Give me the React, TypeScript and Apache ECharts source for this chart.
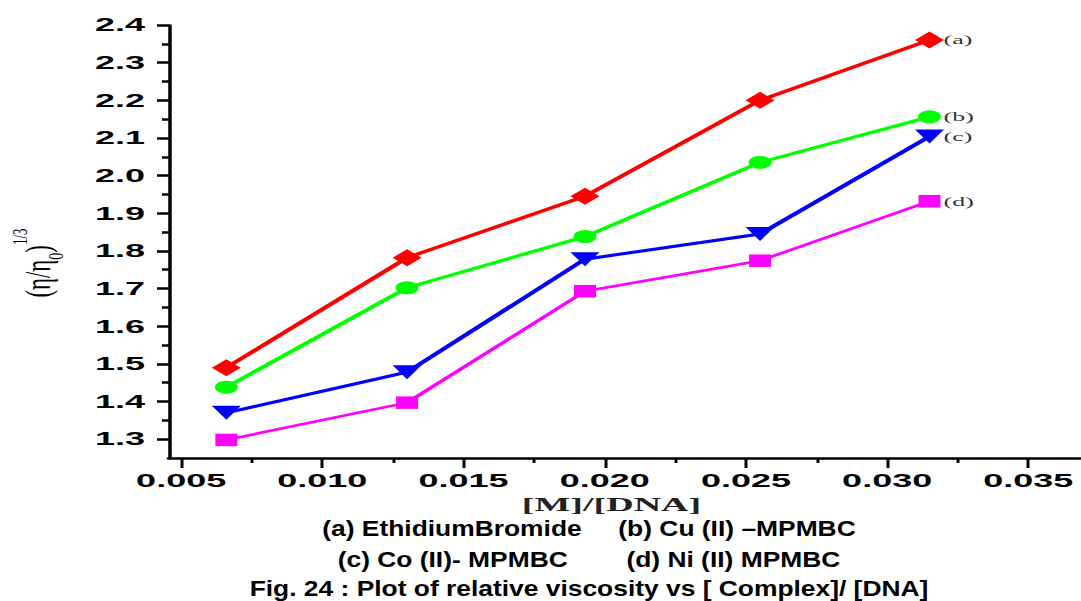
import React, { useEffect, useRef } from 'react';
import * as echarts from 'echarts';

// ---- data ----
const X_VALUES = [0.0066, 0.013, 0.0193, 0.0255, 0.0315];
const SERIES_A = [1.49, 1.782, 1.945, 2.2, 2.36]; // (a) Ethidium Bromide
const SERIES_B = [1.438, 1.702, 1.838, 2.035, 2.156]; // (b) Cu(II)-MPMBC
const SERIES_C = [1.37, 1.478, 1.778, 1.845, 2.104]; // (c) Co(II)-MPMBC
const SERIES_D = [1.298, 1.397, 1.693, 1.774, 1.932]; // (d) Ni(II)-MPMBC
const SERIES_LABELS = ['(a)', '(b)', '(c)', '(d)'];
const SERIES_NAMES = ['EthidiumBromide', 'Cu (II) –MPMBC', 'Co (II)- MPMBC', 'Ni (II) MPMBC'];

const X_TICKS = [0.005, 0.01, 0.015, 0.02, 0.025, 0.03, 0.035];
const X_MINOR = [0.0075, 0.0125, 0.0175, 0.0225, 0.0275, 0.0325];
const Y_TICKS = [1.3, 1.4, 1.5, 1.6, 1.7, 1.8, 1.9, 2.0, 2.1, 2.2, 2.3, 2.4];
const Y_MINOR = [1.35, 1.45, 1.55, 1.65, 1.75, 1.85, 1.95, 2.05, 2.15, 2.25, 2.35];

const CAPTION_LINES = [
  '(a) EthidiumBromide     (b) Cu (II) –MPMBC',
  '(c) Co (II)- MPMBC        (d) Ni (II) MPMBC',
  'Fig. 24 : Plot of relative viscosity vs [ Complex]/ [DNA]',
];

// ---- layout / style ----
const STRETCH = 2; // the reference figure is horizontally stretched
const W = 1081 / STRETCH;
const H = 601;
const SANS = "'Liberation Sans', Arial, Helvetica, sans-serif";
const SERIF = "'Liberation Serif', 'Times New Roman', serif";
const X_MIN = 0.00457;
const X_MAX = 0.0369;
const Y_MIN = 1.25;
const Y_MAX = 2.4;
const CAPTION_Y = [528, 559, 588];

export default function App() {
  const ref = useRef<HTMLDivElement>(null);

  useEffect(() => {
    const el = ref.current;
    if (!el) return;
    const chart = echarts.init(el, null, { renderer: 'svg' });

    const mk = (
      idx: number,
      values: number[],
      color: string,
      symbol: string,
      size: number[],
      width: number,
      rotate = 0
    ) => ({
      name: SERIES_LABELS[idx] + ' ' + SERIES_NAMES[idx],
      type: 'line',
      xAxisIndex: 0,
      yAxisIndex: 0,
      data: X_VALUES.map((x, i) => [x, values[i]]),
      symbol,
      symbolSize: size,
      symbolRotate: rotate,
      showSymbol: true,
      itemStyle: { color, borderWidth: 0 },
      lineStyle: { color, width },
      endLabel: {
        show: true,
        formatter: SERIES_LABELS[idx],
        distance: 7,
        fontFamily: SERIF,
        fontSize: 13,
        color: '#333',
      },
      z: 10 - idx,
    });

    const option: any = {
      animation: false,
      backgroundColor: '#ffffff',
      grid: {
        left: 84.5,
        right: 0,
        top: 25,
        bottom: 143,
        containLabel: false,
        outerBoundsMode: 'none',
      },
      xAxis: [
        {
          type: 'value',
          position: 'bottom',
          min: X_MIN,
          max: X_MAX,
          axisLine: { show: true, lineStyle: { color: '#000', width: 2.5 } },
          axisTick: {
            show: true,
            customValues: X_TICKS,
            length: 10,
            lineStyle: { color: '#000', width: 1.5 },
          },
          axisLabel: {
            show: true,
            customValues: X_TICKS,
            formatter: (v: number) => v.toFixed(3),
            margin: 14,
            fontFamily: SANS,
            fontWeight: 'bold',
            fontSize: 18,
            color: '#000',
          },
          splitLine: { show: false },
          name: '[M]/[DNA]',
          nameLocation: 'middle',
          nameGap: 23,
          nameTextStyle: {
            fontFamily: SERIF,
            fontWeight: 'bold',
            fontSize: 19,
            color: '#222',
            padding: [0, 14, 0, 0],
          },
        },
        {
          type: 'value',
          position: 'bottom',
          min: X_MIN,
          max: X_MAX,
          axisLine: { show: false },
          axisTick: {
            show: true,
            customValues: X_MINOR,
            length: 5,
            lineStyle: { color: '#000', width: 1.5 },
          },
          axisLabel: { show: false },
          splitLine: { show: false },
        },
      ],
      yAxis: [
        {
          type: 'value',
          position: 'left',
          min: Y_MIN,
          max: Y_MAX,
          axisLine: { show: true, lineStyle: { color: '#000', width: 1.75 } },
          axisTick: {
            show: true,
            customValues: Y_TICKS,
            length: 6,
            lineStyle: { color: '#000', width: 2.5 },
          },
          axisLabel: {
            show: true,
            customValues: Y_TICKS,
            formatter: (v: number) => v.toFixed(1),
            margin: 12,
            fontFamily: SANS,
            fontWeight: 'bold',
            fontSize: 18,
            color: '#000',
          },
          splitLine: { show: false },
        },
        {
          type: 'value',
          position: 'left',
          min: Y_MIN,
          max: Y_MAX,
          axisLine: { show: false },
          axisTick: {
            show: true,
            customValues: Y_MINOR,
            length: 3.5,
            lineStyle: { color: '#000', width: 2.5 },
          },
          axisLabel: { show: false },
          splitLine: { show: false },
        },
      ],
      series: [
        mk(0, SERIES_A, '#ff0000', 'diamond', [14.5, 17], 3),
        mk(1, SERIES_B, '#00ff00', 'circle', [11.5, 13], 3),
        mk(2, SERIES_C, '#0000ff', 'triangle', [14.5, 14], 3, 180),
        mk(3, SERIES_D, '#ff00ff', 'rect', [11, 12.5], 2.5),
      ],
      graphic: [
        ...CAPTION_LINES.map((t, i) => ({
          type: 'text',
          x: 294.5,
          y: CAPTION_Y[i],
          scaleX: 0.6,
          silent: true,
          style: {
            text: t,
            fontFamily: SANS,
            fontWeight: 'bold',
            fontSize: 22,
            fill: '#000',
            textAlign: 'center',
            textVerticalAlign: 'middle',
            align: 'center',
            verticalAlign: 'middle',
          },
        })),
        {
          type: 'text',
          x: 19,
          y: 263,
          rotation: Math.PI / 2,
          scaleX: 1.3,
          silent: true,
          style: {
            text: '{m|(η/η}{s|0}{m|)}{p|1/3}',
            fill: '#000',
            textAlign: 'center',
            textVerticalAlign: 'middle',
            align: 'center',
            verticalAlign: 'middle',
            rich: {
              m: { fontFamily: SERIF, fontSize: 17.5, lineHeight: 28, fill: '#000' },
              s: { fontFamily: SERIF, fontSize: 11, lineHeight: 14, verticalAlign: 'bottom', fill: '#000' },
              p: { fontFamily: SERIF, fontSize: 10, lineHeight: 10, verticalAlign: 'top', fill: '#000' },
            },
          },
        },
      ],
    };

    chart.setOption(option);
    return () => chart.dispose();
  }, []);

  return (
    <div
      ref={ref}
      style={{
        position: 'fixed',
        left: 0,
        top: 0,
        width: W,
        height: H,
        transform: `scaleX(${STRETCH})`,
        transformOrigin: '0 0',
        background: '#fff',
      }}
    />
  );
}
